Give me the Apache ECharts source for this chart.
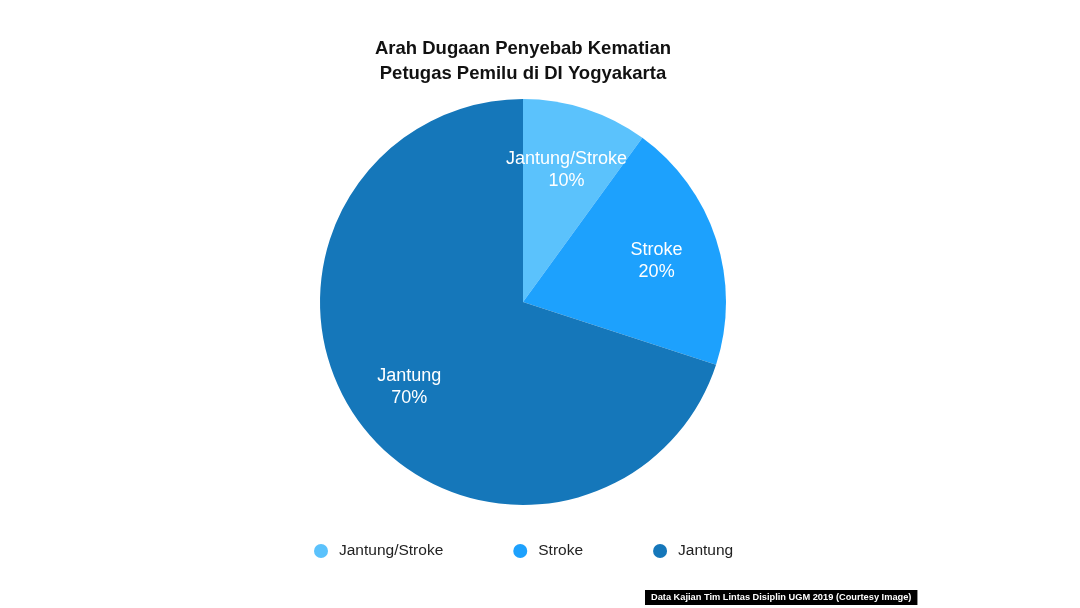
<!DOCTYPE html>
<html>
<head>
<meta charset="utf-8">
<script src="https://cdn.jsdelivr.net/npm/echarts@6/dist/echarts.min.js"></script>
<style>html,body{margin:0;padding:0;background:#fff}#c{width:1080px;height:608px}</style>
</head>
<body>
<div id="c"></div>
<script>
const categories = ['Jantung/Stroke', 'Stroke', 'Jantung'];
const values = [10, 20, 70];
const colors = ['#5BC2FC', '#1DA1FD', '#1577BA'];
const titleText = 'Arah Dugaan Penyebab Kematian\nPetugas Pemilu di DI Yogyakarta';
const captionText = 'Data Kajian Tim Lintas Disiplin UGM 2019 (Courtesy Image)';

const data = categories.map((n, i) => ({ name: n, value: values[i], itemStyle: { color: colors[i] } }));
const font = '"Liberation Sans", Arial, Helvetica, sans-serif';
const chart = echarts.init(document.getElementById('c'));
chart.setOption({
  animation: false,
  title: [{
    text: titleText,
    left: 518, top: 31, textAlign: 'center',
    textStyle: { fontFamily: font, fontSize: 18.5, fontWeight: 'bold', color: '#111', lineHeight: 25 }
  }, {
    text: captionText,
    left: 645, top: 590,
    padding: [3, 6, 3, 6],
    backgroundColor: '#000',
    textStyle: { fontFamily: font, fontSize: 9.25, fontWeight: 'bold', color: '#fff' }
  }],
  legend: {
    data: categories,
    left: 314, top: 543, padding: 0,
    icon: 'circle', itemWidth: 14, itemHeight: 14, itemGap: 70,
    textStyle: { fontFamily: font, fontSize: 15.5, color: '#222', padding: [0, 0, 0, 6] }
  },
  series: [{
    type: 'pie',
    center: [523, 302], radius: [0, 203],
    startAngle: 90, clockwise: true,
    silent: true,
    label: { show: false }, labelLine: { show: false },
    data: data
  }, {
    type: 'pie',
    center: [523, 302], radius: [72, 203],
    startAngle: 90, clockwise: true,
    silent: true,
    itemStyle: { color: 'transparent' },
    label: {
      show: true, position: 'inside', offset: [0, 2],
      formatter: p => p.name + '\n' + p.value + '%',
      fontFamily: font, fontSize: 18, color: '#fff', lineHeight: 22
    },
    labelLine: { show: false },
    data: categories.map((n, i) => ({ name: n, value: values[i], itemStyle: { color: 'transparent' } }))
  }]
});
</script>
</body>
</html>
